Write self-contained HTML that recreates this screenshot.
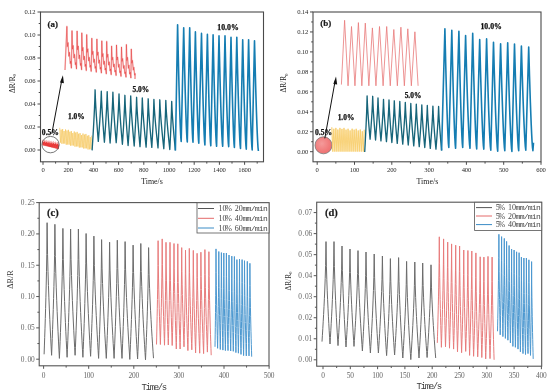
<!DOCTYPE html>
<html><head><meta charset="utf-8"><style>
html,body{margin:0;padding:0;background:#fff;width:550px;height:392px;overflow:hidden}
svg{display:block;filter:blur(0.3px)}
</style></head><body>
<svg width="550" height="392" viewBox="0 0 550 392">
<rect width="550" height="392" fill="#fff"/>
<rect x="40.5" y="12" width="223" height="149.8" fill="none" stroke="#4a4a4a" stroke-width="1.1"/>
<path d="M37.5,150H40.5M37.5,127H40.5M37.5,104H40.5M37.5,81H40.5M37.5,58H40.5M37.5,35H40.5M37.5,12H40.5M38.7,138.5H40.5M38.7,115.5H40.5M38.7,92.5H40.5M38.7,69.5H40.5M38.7,46.5H40.5M38.7,23.5H40.5" stroke="#4a4a4a" stroke-width="1.0" fill="none"/>
<path d="M43,161.8V164.8M68.2,161.8V164.8M93.4,161.8V164.8M118.6,161.8V164.8M143.8,161.8V164.8M169,161.8V164.8M194.2,161.8V164.8M219.4,161.8V164.8M244.6,161.8V164.8M55.6,161.8V163.6M80.8,161.8V163.6M106,161.8V163.6M131.2,161.8V163.6M156.4,161.8V163.6M181.6,161.8V163.6M206.8,161.8V163.6M232,161.8V163.6M257.2,161.8V163.6" stroke="#4a4a4a" stroke-width="1.0" fill="none"/>
<text x="35.4" y="152.2" font-size="6.6" text-anchor="end" font-family='"Liberation Serif", serif' font-weight="normal" fill="#2a2a2a" letter-spacing="-0.15">0.00</text>
<text x="35.4" y="129.2" font-size="6.6" text-anchor="end" font-family='"Liberation Serif", serif' font-weight="normal" fill="#2a2a2a" letter-spacing="-0.15">0.02</text>
<text x="35.4" y="106.2" font-size="6.6" text-anchor="end" font-family='"Liberation Serif", serif' font-weight="normal" fill="#2a2a2a" letter-spacing="-0.15">0.04</text>
<text x="35.4" y="83.2" font-size="6.6" text-anchor="end" font-family='"Liberation Serif", serif' font-weight="normal" fill="#2a2a2a" letter-spacing="-0.15">0.06</text>
<text x="35.4" y="60.2" font-size="6.6" text-anchor="end" font-family='"Liberation Serif", serif' font-weight="normal" fill="#2a2a2a" letter-spacing="-0.15">0.08</text>
<text x="35.4" y="37.2" font-size="6.6" text-anchor="end" font-family='"Liberation Serif", serif' font-weight="normal" fill="#2a2a2a" letter-spacing="-0.15">0.10</text>
<text x="35.4" y="14.2" font-size="6.6" text-anchor="end" font-family='"Liberation Serif", serif' font-weight="normal" fill="#2a2a2a" letter-spacing="-0.15">0.12</text>
<text x="43" y="172.2" font-size="6.6" text-anchor="middle" font-family='"Liberation Serif", serif' font-weight="normal" fill="#2a2a2a" letter-spacing="-0.15">0</text>
<text x="68.2" y="172.2" font-size="6.6" text-anchor="middle" font-family='"Liberation Serif", serif' font-weight="normal" fill="#2a2a2a" letter-spacing="-0.15">200</text>
<text x="93.4" y="172.2" font-size="6.6" text-anchor="middle" font-family='"Liberation Serif", serif' font-weight="normal" fill="#2a2a2a" letter-spacing="-0.15">400</text>
<text x="118.6" y="172.2" font-size="6.6" text-anchor="middle" font-family='"Liberation Serif", serif' font-weight="normal" fill="#2a2a2a" letter-spacing="-0.15">600</text>
<text x="143.8" y="172.2" font-size="6.6" text-anchor="middle" font-family='"Liberation Serif", serif' font-weight="normal" fill="#2a2a2a" letter-spacing="-0.15">800</text>
<text x="169" y="172.2" font-size="6.6" text-anchor="middle" font-family='"Liberation Serif", serif' font-weight="normal" fill="#2a2a2a" letter-spacing="-0.15">1000</text>
<text x="194.2" y="172.2" font-size="6.6" text-anchor="middle" font-family='"Liberation Serif", serif' font-weight="normal" fill="#2a2a2a" letter-spacing="-0.15">1200</text>
<text x="219.4" y="172.2" font-size="6.6" text-anchor="middle" font-family='"Liberation Serif", serif' font-weight="normal" fill="#2a2a2a" letter-spacing="-0.15">1400</text>
<text x="244.6" y="172.2" font-size="6.6" text-anchor="middle" font-family='"Liberation Serif", serif' font-weight="normal" fill="#2a2a2a" letter-spacing="-0.15">1600</text>
<text x="152" y="184.2" font-size="7.9" text-anchor="middle" font-family='"Liberation Serif", serif' font-weight="normal" fill="#222" >Time/s</text>
<text transform="translate(14.6,83.5) rotate(-90)" font-size="7.4" text-anchor="middle" font-family='"Liberation Serif", serif' fill="#222">ΔR/R<tspan font-size="5" dy="1.5">0</tspan></text>
<text x="52.8" y="26.5" font-size="9.0" text-anchor="middle" font-family='"Liberation Serif", serif' font-weight="bold" fill="#1a1a1a" stroke="#1a1a1a" stroke-width="0.2">(a)</text>
<polyline points="42.4,139.8 42.95,145.13 43.49,140.79 44.04,145.4 44.59,140.17 45.13,145.67 45.68,141.16 46.23,145.93 46.77,140.55 47.32,146.2 47.87,141.53 48.41,146.47 48.96,140.92 49.51,146.73 50.05,141.91 50.6,147 51.15,141.29 51.69,147.27 52.24,142.28 52.79,147.53 53.33,141.67 53.88,147.8 54.43,142.65 54.97,148.07 55.52,142.04 56.07,148.33 56.61,143.03 57.16,148.6 57.71,142.41 58.25,148.87 58.8,143.4" fill="none" stroke="#f07070" stroke-width="1.1" stroke-linejoin="round" stroke-opacity="0.6"/>
<polyline points="42.4,141.3 42.95,145.13 43.49,142.29 44.04,145.4 44.59,141.67 45.13,145.67 45.68,142.66 46.23,145.93 46.77,142.05 47.32,146.2 47.87,143.03 48.41,146.47 48.96,142.42 49.51,146.73 50.05,143.41 50.6,147 51.15,142.79 51.69,147.27 52.24,143.78 52.79,147.53 53.33,143.17 53.88,147.8 54.43,144.15 54.97,148.07 55.52,143.54 56.07,148.33 56.61,144.53 57.16,148.6 57.71,143.91 58.25,148.87 58.8,144.9" fill="none" stroke="#e51c1c" stroke-width="0.7" stroke-linejoin="round" stroke-opacity="0.9"/>
<ellipse cx="50.5" cy="144.6" rx="8.6" ry="8.2" fill="none" stroke="#555" stroke-width="0.8"/>
<polyline points="59.7,127.8 60.43,142.66 61.15,129.64 61.88,143.78 62.61,129.08 63.34,143.6 64.06,131.02 64.79,143.61 65.52,129.46 66.25,144.73 66.97,130.5 67.7,144.55 68.43,129.85 69.15,144.57 69.88,131.69 70.61,145.69 71.34,131.13 72.06,145.5 72.79,133.07 73.52,145.52 74.25,131.51 74.97,146.64 75.7,132.55 76.43,146.46 77.15,131.89 77.88,146.48 78.61,133.73 79.34,147.6 80.06,133.17 80.79,147.41 81.52,135.11 82.25,147.43 82.97,133.55 83.7,148.55 84.43,134.6 85.15,148.37 85.88,133.94 86.61,148.39 87.34,135.78 88.06,149.5 88.79,135.22 89.52,149.32 90.25,137.16 90.97,149.34 91.7,135.6" fill="none" stroke="#fbe2a6" stroke-width="0.8" stroke-linejoin="round" stroke-opacity="0.8"/>
<polyline points="59.7,127.8 60.43,142.66 61.15,129.64 61.88,143.78 62.61,129.08 63.34,143.6 64.06,131.02 64.79,143.61 65.52,129.46 66.25,144.73 66.97,130.5 67.7,144.55 68.43,129.85 69.15,144.57 69.88,131.69 70.61,145.69 71.34,131.13 72.06,145.5 72.79,133.07 73.52,145.52 74.25,131.51 74.97,146.64 75.7,132.55 76.43,146.46 77.15,131.89 77.88,146.48 78.61,133.73 79.34,147.6 80.06,133.17 80.79,147.41 81.52,135.11 82.25,147.43 82.97,133.55 83.7,148.55 84.43,134.6 85.15,148.37 85.88,133.94 86.61,148.39 87.34,135.78 88.06,149.5 88.79,135.22 89.52,149.32 90.25,137.16 90.97,149.34 91.7,135.6" fill="none" stroke="#f3b838" stroke-width="0.4" stroke-linejoin="round" stroke-opacity="0.85"/>
<polyline points="92.1,150.4 92.4,145.8 92.7,141.06 93,136.18 93.3,131.11 93.6,125.83 93.9,120.28 94.2,114.36 94.5,107.92 94.8,100.58 95.1,89.8 95.42,98.98 95.74,105.23 96.06,110.72 96.38,115.75 96.7,120.48 97.02,124.98 97.34,129.29 97.66,133.45 97.98,137.48 98.3,141.4 98.6,137.59 98.9,133.66 99.2,129.62 99.5,125.42 99.8,121.05 100.1,116.45 100.4,111.55 100.7,106.21 101,100.13 101.3,91.2 101.61,100.27 101.92,106.45 102.23,111.87 102.54,116.85 102.85,121.52 103.16,125.97 103.47,130.23 103.78,134.34 104.09,138.33 104.4,142.2 104.68,138.36 104.96,134.4 105.24,130.32 105.52,126.1 105.8,121.69 106.08,117.05 106.36,112.11 106.64,106.73 106.92,100.6 107.2,91.6 107.49,100.74 107.78,106.97 108.07,112.44 108.36,117.45 108.65,122.16 108.94,126.64 109.23,130.94 109.52,135.08 109.81,139.09 110.1,143 110.38,139.14 110.66,135.17 110.94,131.08 111.22,126.83 111.5,122.41 111.78,117.75 112.06,112.79 112.34,107.39 112.62,101.23 112.9,92.2 113.23,101.18 113.56,107.3 113.89,112.67 114.22,117.6 114.55,122.23 114.88,126.63 115.21,130.85 115.54,134.92 115.87,138.86 116.2,142.7 116.48,138.99 116.76,135.18 117.04,131.25 117.32,127.17 117.6,122.92 117.88,118.45 118.16,113.68 118.44,108.49 118.72,102.58 119,93.9 119.34,102.86 119.68,108.97 120.02,114.33 120.36,119.25 120.7,123.87 121.04,128.26 121.38,132.47 121.72,136.53 122.06,140.47 122.4,144.3 122.65,140.58 122.9,136.75 123.15,132.8 123.4,128.7 123.65,124.44 123.9,119.95 124.15,115.16 124.4,109.95 124.65,104.01 124.9,95.3 125.22,104.23 125.54,110.31 125.86,115.65 126.18,120.55 126.5,125.15 126.82,129.52 127.14,133.72 127.46,137.76 127.78,141.69 128.1,145.5 128.36,141.73 128.62,137.86 128.88,133.86 129.14,129.71 129.4,125.39 129.66,120.85 129.92,116.01 130.18,110.73 130.44,104.72 130.7,95.9 131.05,104.81 131.4,110.88 131.75,116.21 132.1,121.1 132.45,125.69 132.8,130.05 133.15,134.24 133.5,138.28 133.85,142.19 134.2,146 134.44,142.3 134.68,138.5 134.92,134.57 135.16,130.5 135.4,126.26 135.64,121.79 135.88,117.04 136.12,111.86 136.36,105.96 136.6,97.3 136.94,106.07 137.28,112.04 137.62,117.28 137.96,122.1 138.3,126.61 138.64,130.91 138.98,135.03 139.32,139 139.66,142.85 140,146.6 140.23,142.91 140.46,139.11 140.69,135.19 140.92,131.13 141.15,126.9 141.38,122.44 141.61,117.7 141.84,112.53 142.07,106.64 142.3,98 142.68,106.73 143.06,112.68 143.44,117.9 143.82,122.7 144.2,127.2 144.58,131.47 144.96,135.58 145.34,139.53 145.72,143.37 146.1,147.1 146.31,143.43 146.52,139.66 146.73,135.76 146.94,131.73 147.15,127.52 147.36,123.09 147.57,118.38 147.78,113.25 147.99,107.39 148.2,98.8 148.56,107.44 148.92,113.33 149.28,118.5 149.64,123.24 150,127.7 150.36,131.93 150.72,135.99 151.08,139.91 151.44,143.71 151.8,147.4 152.01,143.75 152.22,140 152.43,136.13 152.64,132.12 152.85,127.94 153.06,123.54 153.27,118.86 153.48,113.76 153.69,107.94 153.9,99.4 154.31,108.02 154.72,113.9 155.13,119.06 155.54,123.79 155.95,128.24 156.36,132.46 156.77,136.52 157.18,140.43 157.59,144.22 158,147.9 158.18,144.25 158.36,140.49 158.54,136.61 158.72,132.59 158.9,128.4 159.08,123.99 159.26,119.3 159.44,114.19 159.62,108.35 159.8,99.8 160.2,108.5 160.6,114.42 161,119.62 161.4,124.4 161.8,128.88 162.2,133.14 162.6,137.22 163,141.16 163.4,144.98 163.8,148.7 164,145.03 164.2,141.26 164.4,137.36 164.6,133.33 164.8,129.12 165,124.69 165.2,119.98 165.4,114.85 165.6,108.99 165.8,100.4 166.2,109.13 166.6,115.08 167,120.3 167.4,125.1 167.8,129.6 168.2,133.87 168.6,137.98 169,141.93 169.4,145.77 169.8,149.5 169.99,145.85 170.18,142.09 170.37,138.21 170.56,134.19 170.75,130 170.94,125.59 171.13,120.9 171.32,115.79 171.51,109.95 171.7,101.4 172.07,110.11 172.44,116.05 172.81,121.26 173.18,126.05 173.55,130.54 173.92,134.8 174.29,138.9 174.66,142.85 175.03,146.68 175.4,150.4" fill="none" stroke="#17657a" stroke-width="1.35" stroke-linejoin="round" />
<polyline points="175.4,150.4 177.6,24.8 177.96,41.86 178.32,58 178.68,73.15 179.04,87.26 179.4,100.24 179.76,111.98 180.12,122.32 180.48,131.06 180.84,137.81 181.2,141.5 183.7,27.7 184.06,44.41 184.42,60.21 184.78,75.06 185.14,88.88 185.5,101.59 185.86,113.08 186.22,123.22 186.58,131.78 186.94,138.39 187.3,142 189.7,27.7 190.03,44.45 190.36,60.3 190.69,75.18 191.02,89.04 191.35,101.78 191.68,113.31 192.01,123.47 192.34,132.05 192.67,138.68 193,142.3 195.4,31.9 195.74,48.17 196.08,63.56 196.42,78.02 196.76,91.47 197.1,103.85 197.44,115.04 197.78,124.91 198.12,133.25 198.46,139.68 198.8,143.2 201.5,33.4 201.84,49.7 202.18,65.12 202.52,79.6 202.86,93.08 203.2,105.48 203.54,116.69 203.88,126.58 204.22,134.93 204.56,141.37 204.9,144.9 207.4,34.4 207.74,50.69 208.08,66.09 208.42,80.56 208.76,94.03 209.1,106.41 209.44,117.62 209.78,127.5 210.12,135.84 210.46,142.28 210.8,145.8 213.1,34.9 213.45,51.19 213.8,66.59 214.15,81.06 214.5,94.53 214.85,106.91 215.2,118.12 215.55,128 215.9,136.34 216.25,142.78 216.6,146.3 219,35.9 219.37,52.04 219.74,67.3 220.11,81.64 220.48,94.99 220.85,107.27 221.22,118.37 221.59,128.16 221.96,136.43 222.33,142.81 222.7,146.3 225,35.9 225.37,52.08 225.74,67.39 226.11,81.77 226.48,95.15 226.85,107.46 227.22,118.59 227.59,128.41 227.96,136.7 228.33,143.1 228.7,146.6 231,37.2 231.34,53.32 231.68,68.58 232.02,82.9 232.36,96.24 232.7,108.5 233.04,119.6 233.38,129.38 233.72,137.63 234.06,144.01 234.4,147.5 236.8,37.2 237.17,53.46 237.54,68.83 237.91,83.27 238.28,96.72 238.65,109.08 239.02,120.27 239.39,130.13 239.76,138.45 240.13,144.88 240.5,148.4 242.7,39.7 243.06,55.71 243.42,70.85 243.78,85.07 244.14,98.31 244.5,110.49 244.86,121.5 245.22,131.21 245.58,139.41 245.94,145.74 246.3,149.2 248.6,39.7 248.96,55.82 249.32,71.08 249.68,85.4 250.04,98.74 250.4,111 250.76,122.1 251.12,131.88 251.48,140.13 251.84,146.51 252.2,150 254.5,40.7 254.89,56.82 255.28,72.08 255.67,86.4 256.06,99.74 256.45,112 256.84,123.1 257.23,132.88 257.62,141.13 258.01,147.51 258.4,151" fill="none" stroke="#157db2" stroke-width="1.6" stroke-linejoin="round" />
<polyline points="65,70 66.9,26.4 67.4,46.6 68,42.56 68.9,56.3 69.4,52.26 70.3,63.57 70.7,61.14 71.4,68.12 72,30.7 72.5,49.16 73.1,45.47 74,58.02 74.5,54.33 75.4,64.67 75.8,62.45 76.5,68.95 77.1,31 77.6,49.72 78.2,45.98 79.1,58.71 79.6,54.97 80.5,65.45 80.9,63.2 81.6,69.77 81.8,32.9 82.3,51.08 82.9,47.45 83.8,59.81 84.3,56.18 85.2,66.36 85.6,64.18 86.3,70.59 86.7,34.6 87.2,52.35 87.8,48.8 88.7,60.86 89.2,57.32 90.1,67.25 90.5,65.12 91.2,71.42 91.8,38.2 92.3,54.56 92.9,51.29 93.8,62.41 94.3,59.14 95.2,68.3 95.6,66.34 96.3,72.24 96.9,39 97.4,55.37 98,52.1 98.9,63.23 99.4,59.95 100.3,69.12 100.7,67.16 101.4,73.06 101.8,40.9 102.3,56.73 102.9,53.56 103.8,64.33 104.3,61.16 105.2,70.03 105.6,68.13 106.3,73.88 106.7,41.4 107.2,57.39 107.8,54.19 108.7,65.07 109.2,61.87 110.1,70.83 110.5,68.91 111.2,74.71 111.6,46 112.1,60.1 112.7,57.28 113.6,66.87 114.1,64.05 115,71.95 115.4,70.26 116.1,75.53 116.5,45 117,60.02 117.6,57.01 118.5,67.22 119,64.22 119.9,72.63 120.3,70.83 121,76.35 121.5,47 122,61.43 122.6,58.54 123.5,68.35 124,65.47 124.9,73.55 125.3,71.81 126,77.18 126.4,44.5 126.9,60.59 127.5,57.37 128.4,68.31 128.9,65.09 129.8,74.1 130.2,72.17 130.9,78 131.3,49 131.8,63.25 132.4,60.4 133.3,70.09 133.8,67.24 134.7,75.22 135.1,73.51 135,79" fill="none" stroke="#f4a8a8" stroke-width="1.6" stroke-linejoin="round" stroke-opacity="0.6"/>
<polyline points="65,70 66.9,26.4 67.4,46.6 68,42.56 68.9,56.3 69.4,52.26 70.3,63.57 70.7,61.14 71.4,68.12 72,30.7 72.5,49.16 73.1,45.47 74,58.02 74.5,54.33 75.4,64.67 75.8,62.45 76.5,68.95 77.1,31 77.6,49.72 78.2,45.98 79.1,58.71 79.6,54.97 80.5,65.45 80.9,63.2 81.6,69.77 81.8,32.9 82.3,51.08 82.9,47.45 83.8,59.81 84.3,56.18 85.2,66.36 85.6,64.18 86.3,70.59 86.7,34.6 87.2,52.35 87.8,48.8 88.7,60.86 89.2,57.32 90.1,67.25 90.5,65.12 91.2,71.42 91.8,38.2 92.3,54.56 92.9,51.29 93.8,62.41 94.3,59.14 95.2,68.3 95.6,66.34 96.3,72.24 96.9,39 97.4,55.37 98,52.1 98.9,63.23 99.4,59.95 100.3,69.12 100.7,67.16 101.4,73.06 101.8,40.9 102.3,56.73 102.9,53.56 103.8,64.33 104.3,61.16 105.2,70.03 105.6,68.13 106.3,73.88 106.7,41.4 107.2,57.39 107.8,54.19 108.7,65.07 109.2,61.87 110.1,70.83 110.5,68.91 111.2,74.71 111.6,46 112.1,60.1 112.7,57.28 113.6,66.87 114.1,64.05 115,71.95 115.4,70.26 116.1,75.53 116.5,45 117,60.02 117.6,57.01 118.5,67.22 119,64.22 119.9,72.63 120.3,70.83 121,76.35 121.5,47 122,61.43 122.6,58.54 123.5,68.35 124,65.47 124.9,73.55 125.3,71.81 126,77.18 126.4,44.5 126.9,60.59 127.5,57.37 128.4,68.31 128.9,65.09 129.8,74.1 130.2,72.17 130.9,78 131.3,49 131.8,63.25 132.4,60.4 133.3,70.09 133.8,67.24 134.7,75.22 135.1,73.51 135,79" fill="none" stroke="#e53a3a" stroke-width="0.65" stroke-linejoin="round" stroke-opacity="0.85"/>
<path d="M51.8,133.8 L61.9,79.5" stroke="#111" stroke-width="1.0" fill="none"/>
<path d="M62.9,75.2 L60.0,82.6 L63.9,83.2 Z" fill="#111"/>
<text x="50.4" y="134.6" font-size="7.6" text-anchor="middle" font-family='"Liberation Serif", serif' font-weight="bold" fill="#111" stroke="#111" stroke-width="0.25">0.5%</text>
<text x="76.4" y="118.5" font-size="7.4" text-anchor="middle" font-family='"Liberation Serif", serif' font-weight="bold" fill="#111" stroke="#111" stroke-width="0.25">1.0%</text>
<text x="140.8" y="92.2" font-size="7.4" text-anchor="middle" font-family='"Liberation Serif", serif' font-weight="bold" fill="#111" stroke="#111" stroke-width="0.25">5.0%</text>
<text x="228" y="30.3" font-size="7.8" text-anchor="middle" font-family='"Liberation Serif", serif' font-weight="bold" fill="#111" stroke="#111" stroke-width="0.25">10.0%</text>
<rect x="313" y="12" width="228" height="149.8" fill="none" stroke="#4a4a4a" stroke-width="1.1"/>
<path d="M310,151.7H313M310,131.74H313M310,111.78H313M310,91.82H313M310,71.86H313M310,51.9H313M310,31.94H313M310,11.98H313M311.2,141.72H313M311.2,121.76H313M311.2,101.8H313M311.2,81.84H313M311.2,61.88H313M311.2,41.92H313M311.2,21.96H313" stroke="#4a4a4a" stroke-width="1.0" fill="none"/>
<path d="M317.2,161.8V164.8M354.5,161.8V164.8M391.8,161.8V164.8M429.1,161.8V164.8M466.4,161.8V164.8M503.7,161.8V164.8M541,161.8V164.8M335.85,161.8V163.6M373.15,161.8V163.6M410.45,161.8V163.6M447.75,161.8V163.6M485.05,161.8V163.6M522.35,161.8V163.6" stroke="#4a4a4a" stroke-width="1.0" fill="none"/>
<text x="308.1" y="153.9" font-size="6.6" text-anchor="end" font-family='"Liberation Serif", serif' font-weight="normal" fill="#2a2a2a" letter-spacing="-0.15">0.00</text>
<text x="308.1" y="133.94" font-size="6.6" text-anchor="end" font-family='"Liberation Serif", serif' font-weight="normal" fill="#2a2a2a" letter-spacing="-0.15">0.02</text>
<text x="308.1" y="113.98" font-size="6.6" text-anchor="end" font-family='"Liberation Serif", serif' font-weight="normal" fill="#2a2a2a" letter-spacing="-0.15">0.04</text>
<text x="308.1" y="94.02" font-size="6.6" text-anchor="end" font-family='"Liberation Serif", serif' font-weight="normal" fill="#2a2a2a" letter-spacing="-0.15">0.06</text>
<text x="308.1" y="74.06" font-size="6.6" text-anchor="end" font-family='"Liberation Serif", serif' font-weight="normal" fill="#2a2a2a" letter-spacing="-0.15">0.08</text>
<text x="308.1" y="54.1" font-size="6.6" text-anchor="end" font-family='"Liberation Serif", serif' font-weight="normal" fill="#2a2a2a" letter-spacing="-0.15">0.10</text>
<text x="308.1" y="34.14" font-size="6.6" text-anchor="end" font-family='"Liberation Serif", serif' font-weight="normal" fill="#2a2a2a" letter-spacing="-0.15">0.12</text>
<text x="308.1" y="14.18" font-size="6.6" text-anchor="end" font-family='"Liberation Serif", serif' font-weight="normal" fill="#2a2a2a" letter-spacing="-0.15">0.14</text>
<text x="317.2" y="172.2" font-size="6.6" text-anchor="middle" font-family='"Liberation Serif", serif' font-weight="normal" fill="#2a2a2a" letter-spacing="-0.15">0</text>
<text x="354.5" y="172.2" font-size="6.6" text-anchor="middle" font-family='"Liberation Serif", serif' font-weight="normal" fill="#2a2a2a" letter-spacing="-0.15">100</text>
<text x="391.8" y="172.2" font-size="6.6" text-anchor="middle" font-family='"Liberation Serif", serif' font-weight="normal" fill="#2a2a2a" letter-spacing="-0.15">200</text>
<text x="429.1" y="172.2" font-size="6.6" text-anchor="middle" font-family='"Liberation Serif", serif' font-weight="normal" fill="#2a2a2a" letter-spacing="-0.15">300</text>
<text x="466.4" y="172.2" font-size="6.6" text-anchor="middle" font-family='"Liberation Serif", serif' font-weight="normal" fill="#2a2a2a" letter-spacing="-0.15">400</text>
<text x="503.7" y="172.2" font-size="6.6" text-anchor="middle" font-family='"Liberation Serif", serif' font-weight="normal" fill="#2a2a2a" letter-spacing="-0.15">500</text>
<text x="541" y="172.2" font-size="6.6" text-anchor="middle" font-family='"Liberation Serif", serif' font-weight="normal" fill="#2a2a2a" letter-spacing="-0.15">600</text>
<text x="427.4" y="183.6" font-size="7.9" text-anchor="middle" font-family='"Liberation Serif", serif' font-weight="normal" fill="#222" >Time/s</text>
<text transform="translate(286.0,83.0) rotate(-90)" font-size="7.4" text-anchor="middle" font-family='"Liberation Serif", serif' fill="#222">ΔR/R<tspan font-size="5" dy="1.5">0</tspan></text>
<text x="325.8" y="26.1" font-size="9.0" text-anchor="middle" font-family='"Liberation Serif", serif' font-weight="bold" fill="#1a1a1a" stroke="#1a1a1a" stroke-width="0.2">(b)</text>
<defs><radialGradient id="cg" cx="0.4" cy="0.4" r="0.7"><stop offset="0" stop-color="#f49a9a"/><stop offset="0.7" stop-color="#f07878"/><stop offset="1" stop-color="#ec7070"/></radialGradient></defs>
<circle cx="323.5" cy="145.3" r="8.5" fill="url(#cg)" stroke="#777" stroke-width="0.8"/>
<polyline points="331.8,127.3 332.82,151.5 333.83,128.94 334.85,151.5 335.86,128.07 336.88,151.5 337.89,129.71 338.91,151.5 339.93,128.05 340.94,151.5 341.96,128.99 342.97,151.5 343.99,128.12 345,151.5 346.02,129.76 347.03,151.5 348.05,128.9 349.07,151.5 350.08,130.54 351.1,151.5 352.11,128.88 353.13,151.5 354.14,129.81 355.16,151.5 356.18,128.95 357.19,151.5 358.21,130.59 359.22,151.5 360.24,129.72 361.25,151.5 362.27,131.36 363.28,151.5 364.3,129.7" fill="none" stroke="#fbe0a0" stroke-width="1.2" stroke-linejoin="round" stroke-opacity="0.8"/>
<polyline points="331.8,127.3 332.82,151.5 333.83,128.94 334.85,151.5 335.86,128.07 336.88,151.5 337.89,129.71 338.91,151.5 339.93,128.05 340.94,151.5 341.96,128.99 342.97,151.5 343.99,128.12 345,151.5 346.02,129.76 347.03,151.5 348.05,128.9 349.07,151.5 350.08,130.54 351.1,151.5 352.11,128.88 353.13,151.5 354.14,129.81 355.16,151.5 356.18,128.95 357.19,151.5 358.21,130.59 359.22,151.5 360.24,129.72 361.25,151.5 362.27,131.36 363.28,151.5 364.3,129.7" fill="none" stroke="#f5c44e" stroke-width="0.6" stroke-linejoin="round" stroke-opacity="0.9"/>
<polyline points="364.7,152 364.94,147.74 365.18,143.35 365.42,138.83 365.66,134.15 365.9,129.26 366.14,124.12 366.38,118.64 366.62,112.68 366.86,105.88 367.1,95.9 367.4,103.6 367.7,108.85 368,113.45 368.3,117.68 368.6,121.65 368.9,125.42 369.2,129.04 369.5,132.53 369.8,135.91 370.1,139.2 370.36,135.94 370.62,132.59 370.88,129.13 371.14,125.55 371.4,121.81 371.66,117.88 371.92,113.69 372.18,109.13 372.44,103.93 372.7,96.3 372.99,104.08 373.27,109.38 373.56,114.03 373.84,118.3 374.12,122.3 374.41,126.11 374.69,129.77 374.98,133.29 375.26,136.71 375.55,140.03 375.8,136.84 376.04,133.55 376.29,130.17 376.53,126.65 376.77,122.99 377.02,119.14 377.26,115.04 377.51,110.57 377.75,105.47 378,98 378.3,105.62 378.59,110.82 378.88,115.37 379.18,119.56 379.48,123.49 379.77,127.22 380.06,130.8 380.36,134.26 380.65,137.6 380.95,140.86 381.2,137.71 381.46,134.47 381.71,131.13 381.97,127.67 382.23,124.05 382.48,120.25 382.74,116.21 382.99,111.8 383.25,106.77 383.5,99.4 383.8,106.92 384.09,112.05 384.38,116.54 384.68,120.67 384.98,124.55 385.27,128.23 385.56,131.77 385.86,135.17 386.15,138.48 386.45,141.69 386.7,138.52 386.96,135.27 387.21,131.91 387.47,128.42 387.73,124.79 387.98,120.97 388.24,116.9 388.49,112.47 388.75,107.41 389,100 389.28,107.56 389.57,112.72 389.86,117.24 390.14,121.39 390.42,125.28 390.71,128.99 390.99,132.54 391.28,135.97 391.56,139.29 391.85,142.52 392.09,139.35 392.34,136.09 392.58,132.73 392.83,129.24 393.07,125.61 393.32,121.79 393.56,117.71 393.81,113.28 394.06,108.22 394.3,100.8 394.6,108.37 394.89,113.53 395.19,118.05 395.48,122.2 395.77,126.1 396.07,129.81 396.37,133.37 396.66,136.8 396.95,140.12 397.25,143.35 397.5,140.17 397.76,136.89 398.01,133.51 398.27,130 398.52,126.35 398.78,122.5 399.04,118.41 399.29,113.95 399.55,108.86 399.8,101.4 400.1,109.01 400.39,114.2 400.69,118.74 400.98,122.92 401.27,126.84 401.57,130.57 401.87,134.14 402.16,137.59 402.45,140.93 402.75,144.18 403,141.01 403.26,137.75 403.51,134.38 403.77,130.89 404.02,127.25 404.28,123.42 404.54,119.34 404.79,114.9 405.05,109.83 405.3,102.4 405.6,109.98 405.89,115.14 406.19,119.67 406.48,123.83 406.77,127.74 407.07,131.45 407.37,135.01 407.66,138.45 407.95,141.78 408.25,145.02 408.5,141.86 408.76,138.62 409.01,135.27 409.27,131.8 409.52,128.19 409.78,124.38 410.04,120.33 410.29,115.92 410.55,110.88 410.8,103.5 411.1,111.03 411.39,116.16 411.69,120.67 411.98,124.8 412.27,128.68 412.57,132.37 412.87,135.91 413.16,139.32 413.45,142.63 413.75,145.85 414,142.67 414.26,139.41 414.51,136.05 414.77,132.56 415.02,128.92 415.28,125.1 415.54,121.02 415.79,116.59 416.05,111.52 416.3,104.1 416.6,111.67 416.89,116.83 417.19,121.36 417.48,125.52 417.77,129.42 418.07,133.13 418.37,136.68 418.66,140.12 418.95,143.44 419.25,146.68 419.5,143.5 419.76,140.24 420.01,136.87 420.27,133.38 420.52,129.74 420.78,125.91 421.04,121.83 421.29,117.39 421.55,112.33 421.8,104.9 422.1,112.48 422.39,117.64 422.69,122.17 422.98,126.33 423.27,130.23 423.57,133.95 423.87,137.51 424.16,140.94 424.45,144.27 424.75,147.51 425,144.32 425.26,141.03 425.51,137.65 425.77,134.14 426.02,130.48 426.28,126.63 426.54,122.53 426.79,118.06 427.05,112.97 427.3,105.5 427.6,113.12 427.9,118.31 428.2,122.87 428.5,127.05 428.8,130.97 429.1,134.7 429.4,138.28 429.7,141.74 430,145.08 430.3,148.34 430.56,145.13 430.82,141.83 431.08,138.42 431.34,134.9 431.6,131.22 431.86,127.34 432.12,123.22 432.38,118.73 432.64,113.61 432.9,106.1 433.2,113.76 433.51,118.98 433.81,123.56 434.12,127.76 434.42,131.71 434.73,135.46 435.03,139.06 435.34,142.53 435.64,145.9 435.95,149.17 436.21,145.93 436.48,142.59 436.75,139.15 437.01,135.59 437.27,131.87 437.54,127.96 437.81,123.8 438.07,119.26 438.34,114.09 438.6,106.5 438.9,114.32 439.2,119.66 439.5,124.34 439.8,128.63 440.1,132.66 440.4,136.5 440.7,140.17 441,143.72 441.3,147.16 441.6,150.5" fill="none" stroke="#17657a" stroke-width="1.35" stroke-linejoin="round" />
<polyline points="441.6,150.5 444.9,28.8 445.29,46.14 445.68,62.54 446.07,77.94 446.46,92.28 446.85,105.47 447.24,117.4 447.63,127.91 448.02,136.79 448.41,143.65 448.8,147.4 451.8,30.3 452.18,47.55 452.56,63.87 452.94,79.19 453.32,93.46 453.7,106.58 454.08,118.45 454.46,128.91 454.84,137.75 455.22,144.57 455.6,148.3 458.9,31.3 459.28,48.27 459.66,64.33 460.04,79.4 460.42,93.44 460.8,106.35 461.18,118.03 461.56,128.32 461.94,137.02 462.32,143.73 462.7,147.4 465.6,35.6 466.04,52.08 466.48,67.66 466.92,82.3 467.36,95.92 467.8,108.45 468.24,119.79 468.68,129.78 469.12,138.22 469.56,144.74 470,148.3 472.7,33.2 473.1,50.11 473.5,66.11 473.9,81.14 474.3,95.13 474.7,107.99 475.1,119.63 475.5,129.89 475.9,138.55 476.3,145.24 476.7,148.9 479.7,39.5 480.11,55.54 480.52,70.71 480.93,84.95 481.34,98.22 481.75,110.42 482.16,121.45 482.57,131.17 482.98,139.39 483.39,145.73 483.8,149.2 486.6,38.9 487.02,55.17 487.44,70.56 487.86,85.02 488.28,98.47 488.7,110.85 489.12,122.04 489.54,131.91 489.96,140.25 490.38,146.68 490.8,150.2 493.5,42.2 493.92,58.13 494.34,73.21 494.76,87.36 495.18,100.54 495.6,112.66 496.02,123.62 496.44,133.29 496.86,141.45 497.28,147.75 497.7,151.2 500.6,43.7 501.02,59.34 501.44,74.14 501.86,88.03 502.28,100.97 502.7,112.87 503.12,123.63 503.54,133.12 503.96,141.13 504.38,147.32 504.8,150.7 507.7,42.7 508.12,58.6 508.54,73.65 508.96,87.78 509.38,100.93 509.8,113.03 510.22,123.98 510.64,133.62 511.06,141.77 511.48,148.06 511.9,151.5 514.5,44 514.92,59.6 515.34,74.35 515.76,88.21 516.18,101.11 516.6,112.98 517.02,123.71 517.44,133.17 517.86,141.16 518.28,147.33 518.7,150.7 521.4,46 521.84,61.23 522.28,75.64 522.72,89.17 523.16,101.77 523.6,113.36 524.04,123.84 524.48,133.08 524.92,140.88 525.36,146.9 525.8,150.2 528.7,47.1 529.12,62.24 529.54,76.57 529.96,90.03 530.38,102.55 530.8,114.07 531.22,124.49 531.64,133.68 532.06,141.43 532.48,147.42 532.9,150.7 533.5,142.6" fill="none" stroke="#157db2" stroke-width="1.6" stroke-linejoin="round" />
<polyline points="341.4,84.6 344.6,20.3 348.05,85.8 351.5,26.5 354.95,85.8 358.4,22.6 361.85,85.8 365.3,23.1 368.85,85.8 372.4,27.9 375.95,85.8 379.5,26.5 383.1,85.8 386.7,26.5 390.25,85.8 393.8,29.5 397.35,85.8 400.9,27.2 404.35,85.8 407.8,28.8 411.35,85.8 414.9,31.8 418.1,85.8" fill="none" stroke="#e87878" stroke-width="0.8" stroke-linejoin="round" />
<path d="M324.8,138.4 L335.2,80.6" stroke="#111" stroke-width="1.0" fill="none"/>
<path d="M336.0,76.5 L333.3,84.0 L337.2,84.6 Z" fill="#111"/>
<text x="323.6" y="134.6" font-size="7.6" text-anchor="middle" font-family='"Liberation Serif", serif' font-weight="bold" fill="#111" stroke="#111" stroke-width="0.25">0.5%</text>
<text x="346" y="120.2" font-size="7.4" text-anchor="middle" font-family='"Liberation Serif", serif' font-weight="bold" fill="#111" stroke="#111" stroke-width="0.25">1.0%</text>
<text x="413" y="98" font-size="7.4" text-anchor="middle" font-family='"Liberation Serif", serif' font-weight="bold" fill="#111" stroke="#111" stroke-width="0.25">5.0%</text>
<text x="491.2" y="29.1" font-size="7.8" text-anchor="middle" font-family='"Liberation Serif", serif' font-weight="bold" fill="#111" stroke="#111" stroke-width="0.25">10.0%</text>
<rect x="39.2" y="202.6" width="229.8" height="163.2" fill="none" stroke="#555" stroke-width="1.1"/>
<path d="M36.2,359.2H39.2M36.2,327.88H39.2M36.2,296.56H39.2M36.2,265.24H39.2M36.2,233.92H39.2M36.2,202.6H39.2M37.4,343.54H39.2M37.4,312.22H39.2M37.4,280.9H39.2M37.4,249.58H39.2M37.4,218.26H39.2" stroke="#555" stroke-width="1.0" fill="none"/>
<path d="M43.6,365.8V368.8M88.7,365.8V368.8M133.8,365.8V368.8M178.9,365.8V368.8M224,365.8V368.8M269.1,365.8V368.8M66.15,365.8V367.6M111.25,365.8V367.6M156.35,365.8V367.6M201.45,365.8V367.6M246.55,365.8V367.6" stroke="#555" stroke-width="1.0" fill="none"/>
<text y="361.7" font-size="7.4" text-anchor="middle" font-weight="normal" fill="#666"><tspan x="22.63" font-family='"Liberation Serif", serif'>0</tspan><tspan x="26.05" font-family='"Liberation Serif", serif'>.</tspan><tspan x="29.47" font-family='"Liberation Serif", serif'>0</tspan><tspan x="32.89" font-family='"Liberation Serif", serif'>0</tspan></text>
<text y="330.38" font-size="7.4" text-anchor="middle" font-weight="normal" fill="#666"><tspan x="22.63" font-family='"Liberation Serif", serif'>0</tspan><tspan x="26.05" font-family='"Liberation Serif", serif'>.</tspan><tspan x="29.47" font-family='"Liberation Serif", serif'>0</tspan><tspan x="32.89" font-family='"Liberation Serif", serif'>5</tspan></text>
<text y="299.06" font-size="7.4" text-anchor="middle" font-weight="normal" fill="#666"><tspan x="22.63" font-family='"Liberation Serif", serif'>0</tspan><tspan x="26.05" font-family='"Liberation Serif", serif'>.</tspan><tspan x="29.47" font-family='"Liberation Serif", serif'>1</tspan><tspan x="32.89" font-family='"Liberation Serif", serif'>0</tspan></text>
<text y="267.74" font-size="7.4" text-anchor="middle" font-weight="normal" fill="#666"><tspan x="22.63" font-family='"Liberation Serif", serif'>0</tspan><tspan x="26.05" font-family='"Liberation Serif", serif'>.</tspan><tspan x="29.47" font-family='"Liberation Serif", serif'>1</tspan><tspan x="32.89" font-family='"Liberation Serif", serif'>5</tspan></text>
<text y="236.42" font-size="7.4" text-anchor="middle" font-weight="normal" fill="#666"><tspan x="22.63" font-family='"Liberation Serif", serif'>0</tspan><tspan x="26.05" font-family='"Liberation Serif", serif'>.</tspan><tspan x="29.47" font-family='"Liberation Serif", serif'>2</tspan><tspan x="32.89" font-family='"Liberation Serif", serif'>0</tspan></text>
<text y="205.1" font-size="7.4" text-anchor="middle" font-weight="normal" fill="#666"><tspan x="22.63" font-family='"Liberation Serif", serif'>0</tspan><tspan x="26.05" font-family='"Liberation Serif", serif'>.</tspan><tspan x="29.47" font-family='"Liberation Serif", serif'>2</tspan><tspan x="32.89" font-family='"Liberation Serif", serif'>5</tspan></text>
<text y="377.8" font-size="7.4" text-anchor="middle" font-weight="normal" fill="#666"><tspan x="43.6" font-family='"Liberation Serif", serif'>0</tspan></text>
<text y="377.8" font-size="7.4" text-anchor="middle" font-weight="normal" fill="#666"><tspan x="85.23" font-family='"Liberation Serif", serif'>1</tspan><tspan x="88.7" font-family='"Liberation Serif", serif'>0</tspan><tspan x="92.17" font-family='"Liberation Serif", serif'>0</tspan></text>
<text y="377.8" font-size="7.4" text-anchor="middle" font-weight="normal" fill="#666"><tspan x="130.33" font-family='"Liberation Serif", serif'>2</tspan><tspan x="133.8" font-family='"Liberation Serif", serif'>0</tspan><tspan x="137.27" font-family='"Liberation Serif", serif'>0</tspan></text>
<text y="377.8" font-size="7.4" text-anchor="middle" font-weight="normal" fill="#666"><tspan x="175.43" font-family='"Liberation Serif", serif'>3</tspan><tspan x="178.9" font-family='"Liberation Serif", serif'>0</tspan><tspan x="182.37" font-family='"Liberation Serif", serif'>0</tspan></text>
<text y="377.8" font-size="7.4" text-anchor="middle" font-weight="normal" fill="#666"><tspan x="220.53" font-family='"Liberation Serif", serif'>4</tspan><tspan x="224" font-family='"Liberation Serif", serif'>0</tspan><tspan x="227.47" font-family='"Liberation Serif", serif'>0</tspan></text>
<text y="377.8" font-size="7.4" text-anchor="middle" font-weight="normal" fill="#666"><tspan x="265.63" font-family='"Liberation Serif", serif'>5</tspan><tspan x="269.1" font-family='"Liberation Serif", serif'>0</tspan><tspan x="272.57" font-family='"Liberation Serif", serif'>0</tspan></text>
<text y="389.6" font-size="9.0" text-anchor="middle" font-weight="normal" fill="#3a3a3a"><tspan x="144.32" font-family='"Liberation Mono", monospace'>T</tspan><tspan x="148.35" font-family='"Liberation Mono", monospace'>i</tspan><tspan x="152.38" font-family='"Liberation Mono", monospace'>m</tspan><tspan x="156.41" font-family='"Liberation Mono", monospace'>e</tspan><tspan x="160.44" font-family='"Liberation Mono", monospace'>/</tspan><tspan x="164.47" font-family='"Liberation Mono", monospace'>s</tspan></text>
<text transform="translate(12.6,279.6) rotate(-90)" font-size="8.2" text-anchor="middle" font-family='"Liberation Serif", serif' fill="#333">ΔR/R</text>
<text x="52.8" y="216.4" font-size="10.5" text-anchor="middle" font-family='"Liberation Serif", serif' font-weight="bold" fill="#1a1a1a" stroke="#1a1a1a" stroke-width="0.2">(c)</text>
<polyline points="44.1,354.3 44.4,345.98 44.7,337.3 45,328.19 45.3,318.58 45.6,308.33 45.9,297.26 46.2,285.08 46.5,271.22 46.8,254.27 47.1,222.7 47.55,254.51 48,271.59 48.45,285.56 48.9,297.83 49.35,308.98 49.8,319.3 50.25,328.99 50.7,338.17 51.15,346.91 51.6,355.3 51.93,347.02 52.26,338.37 52.59,329.31 52.92,319.74 53.25,309.54 53.58,298.52 53.91,286.4 54.24,272.6 54.57,255.72 54.9,224.3 55.35,256.47 55.8,273.74 56.25,287.87 56.7,300.28 57.15,311.55 57.6,322 58.05,331.8 58.5,341.07 58.95,349.92 59.4,358.4 59.75,350.18 60.1,341.6 60.45,332.61 60.8,323.11 61.15,312.99 61.5,302.06 61.85,290.03 62.2,276.33 62.55,259.58 62.9,228.4 63.32,259.32 63.74,275.92 64.16,289.5 64.58,301.43 65,312.27 65.42,322.31 65.84,331.73 66.26,340.65 66.68,349.15 67.1,357.3 67.45,349.19 67.8,340.72 68.15,331.85 68.5,322.47 68.85,312.48 69.2,301.69 69.55,289.82 69.9,276.3 70.25,259.78 70.6,229 71.05,259.3 71.5,275.56 71.95,288.87 72.4,300.56 72.85,311.18 73.3,321.01 73.75,330.24 74.2,338.98 74.65,347.31 75.1,355.3 75.43,347.31 75.76,338.98 76.09,330.24 76.42,321.01 76.75,311.18 77.08,300.56 77.41,288.87 77.74,275.56 78.07,259.3 78.4,229 78.85,259.78 79.3,276.3 79.75,289.82 80.2,301.69 80.65,312.48 81.1,322.47 81.55,331.85 82,340.72 82.45,349.19 82.9,357.3 83.22,349.47 83.54,341.3 83.86,332.74 84.18,323.69 84.5,314.05 84.82,303.65 85.14,292.19 85.46,279.14 85.78,263.2 86.1,233.5 86.55,262.96 87,278.77 87.45,291.71 87.9,303.08 88.35,313.4 88.8,322.96 89.25,331.94 89.7,340.43 90.15,348.53 90.6,356.3 90.93,348.7 91.26,340.77 91.59,332.45 91.92,323.67 92.25,314.31 92.58,304.21 92.91,293.08 93.24,280.41 93.57,264.93 93.9,236.1 94.37,265.44 94.84,281.19 95.31,294.08 95.78,305.4 96.25,315.68 96.72,325.2 97.19,334.14 97.66,342.6 98.13,350.67 98.6,358.4 98.9,350.89 99.2,343.05 99.5,334.83 99.8,326.15 100.1,316.9 100.4,306.91 100.7,295.92 101,283.4 101.3,268.1 101.6,239.6 102.07,268.1 102.54,283.4 103.01,295.92 103.48,306.91 103.95,316.9 104.42,326.15 104.89,334.83 105.36,343.05 105.83,350.89 106.3,358.4 106.63,351.05 106.96,343.39 107.29,335.35 107.62,326.86 107.95,317.81 108.28,308.04 108.61,297.28 108.94,285.04 109.27,270.07 109.6,242.2 110.05,270.07 110.5,285.04 110.95,297.28 111.4,308.04 111.85,317.81 112.3,326.86 112.75,335.35 113.2,343.39 113.65,351.05 114.1,358.4 114.42,350.93 114.74,343.13 115.06,334.95 115.38,326.31 115.7,317.11 116.02,307.17 116.34,296.23 116.66,283.78 116.98,268.55 117.3,240.2 117.77,268.55 118.24,283.78 118.71,296.23 119.18,307.17 119.65,317.11 120.12,326.31 120.59,334.95 121.06,343.13 121.53,350.93 122,358.4 122.31,351.01 122.62,343.31 122.93,335.23 123.24,326.69 123.55,317.6 123.86,307.78 124.17,296.97 124.48,284.66 124.79,269.62 125.1,241.6 125.57,269.86 126.04,285.03 126.51,297.44 126.98,308.35 127.45,318.25 127.92,327.42 128.39,336.03 128.86,344.18 129.33,351.95 129.8,359.4 130.13,352.17 130.46,344.63 130.79,336.72 131.12,328.37 131.45,319.47 131.78,309.86 132.11,299.28 132.44,287.24 132.77,272.52 133.1,245.1 133.55,272.42 134,287.09 134.45,299.09 134.9,309.64 135.35,319.21 135.8,328.08 136.25,336.4 136.7,344.28 137.15,351.8 137.6,359 137.92,351.7 138.24,344.08 138.56,336.09 138.88,327.65 139.2,318.65 139.52,308.94 139.84,298.25 140.16,286.08 140.48,271.21 140.8,243.5 141.27,271.4 141.74,286.38 142.21,298.63 142.68,309.4 143.15,319.17 143.62,328.23 144.09,336.73 144.56,344.77 145.03,352.45 145.5,359.8 145.81,352.7 146.12,345.3 146.43,337.54 146.74,329.34 147.05,320.61 147.36,311.17 147.67,300.79 147.98,288.96 148.29,274.51 148.6,247.6 149.09,274.13 149.58,288.37 150.07,300.03 150.56,310.27 151.05,319.56 151.54,328.18 152.03,336.26 152.52,343.91 153.01,351.21 153.5,358.2" fill="none" stroke="#6c6c6c" stroke-width="1.0" stroke-linejoin="round" />
<polyline points="156.5,344.5 156.66,337.94 156.82,331.09 156.98,323.91 157.14,316.32 157.3,308.24 157.46,299.51 157.62,289.91 157.78,278.97 157.94,265.6 158.1,240.7 158.33,265.6 158.56,278.97 158.79,289.91 159.02,299.51 159.25,308.24 159.48,316.32 159.71,323.91 159.94,331.09 160.17,337.94 160.4,344.5 160.58,337.82 160.76,330.86 160.94,323.55 161.12,315.83 161.3,307.61 161.48,298.73 161.66,288.96 161.84,277.83 162.02,264.23 162.2,238.9 162.43,264.4 162.66,278.09 162.89,289.29 163.12,299.13 163.35,308.07 163.58,316.34 163.81,324.11 164.04,331.47 164.27,338.48 164.5,345.2 164.65,338.69 164.8,331.9 164.95,324.79 165.1,317.27 165.25,309.25 165.4,300.6 165.55,291.08 165.7,280.24 165.85,266.98 166,242.3 166.23,266.94 166.46,280.16 166.69,290.98 166.92,300.49 167.15,309.12 167.38,317.12 167.61,324.62 167.84,331.73 168.07,338.51 168.3,345 168.47,338.51 168.64,331.73 168.81,324.62 168.98,317.12 169.15,309.12 169.32,300.49 169.49,290.98 169.66,280.16 169.83,266.94 170,242.3 170.22,267.06 170.44,280.35 170.66,291.22 170.88,300.77 171.1,309.45 171.32,317.49 171.54,325.03 171.76,332.17 171.98,338.97 172.2,345.5 172.38,339.05 172.56,332.32 172.74,325.26 172.92,317.81 173.1,309.87 173.28,301.29 173.46,291.85 173.64,281.1 173.82,267.97 174,243.5 174.23,268.81 174.46,282.39 174.69,293.51 174.92,303.28 175.15,312.15 175.38,320.36 175.61,328.07 175.84,335.37 176.07,342.33 176.3,349 176.45,342.35 176.6,335.41 176.75,328.13 176.9,320.44 177.05,312.25 177.2,303.41 177.35,293.67 177.5,282.58 177.65,269.04 177.8,243.8 178.03,269.04 178.26,282.58 178.49,293.67 178.72,303.41 178.95,312.25 179.18,320.44 179.41,328.13 179.64,335.41 179.87,342.35 180.1,349 180.26,342.59 180.42,335.9 180.58,328.88 180.74,321.47 180.9,313.58 181.06,305.05 181.22,295.67 181.38,284.98 181.54,271.92 181.7,247.6 181.93,271.4 182.16,284.17 182.39,294.62 182.62,303.81 182.85,312.15 183.08,319.87 183.31,327.12 183.54,333.98 183.77,340.53 184,346.8 184.15,340.69 184.3,334.32 184.45,327.64 184.6,320.58 184.75,313.05 184.9,304.93 185.05,295.99 185.2,285.81 185.35,273.37 185.5,250.2 185.74,274.28 185.98,287.21 186.22,297.79 186.46,307.09 186.7,315.53 186.94,323.35 187.18,330.68 187.42,337.63 187.66,344.25 187.9,350.6 188.04,344.14 188.18,337.4 188.32,330.32 188.46,322.86 188.6,314.9 188.74,306.31 188.88,296.85 189.02,286.08 189.16,272.92 189.3,248.4 189.55,272.72 189.8,285.78 190.05,296.47 190.3,305.85 190.55,314.38 190.8,322.27 191.05,329.68 191.3,336.7 191.55,343.39 191.8,349.8 191.95,343.51 192.1,336.96 192.25,330.08 192.4,322.82 192.55,315.08 192.7,306.72 192.85,297.52 193,287.05 193.15,274.24 193.3,250.4 193.53,274.99 193.76,288.19 193.99,298.99 194.22,308.48 194.45,317.09 194.68,325.08 194.91,332.56 195.14,339.66 195.37,346.42 195.6,352.9 195.75,346.6 195.9,340.03 196.05,333.14 196.2,325.86 196.35,318.11 196.5,309.73 196.65,300.51 196.8,290.02 196.95,277.19 197.1,253.3 197.36,277.26 197.62,290.13 197.88,300.66 198.14,309.9 198.4,318.3 198.66,326.08 198.92,333.38 199.18,340.29 199.44,346.88 199.7,353.2 199.82,346.81 199.94,340.15 200.06,333.16 200.18,325.78 200.3,317.92 200.42,309.43 200.54,300.08 200.66,289.44 200.78,276.43 200.9,252.2 201.17,276.52 201.44,289.58 201.71,300.27 201.98,309.65 202.25,318.18 202.52,326.07 202.79,333.48 203.06,340.5 203.33,347.19 203.6,353.6 203.73,347.02 203.86,340.16 203.99,332.97 204.12,325.37 204.25,317.27 204.38,308.53 204.51,298.9 204.64,287.94 204.77,274.55 204.9,249.6 205.15,274.19 205.4,287.39 205.65,298.19 205.9,307.68 206.15,316.29 206.4,324.28 206.65,331.76 206.9,338.86 207.15,345.62 207.4,352.1 207.55,345.75 207.7,339.13 207.85,332.18 208,324.85 208.15,317.03 208.3,308.59 208.45,299.29 208.6,288.71 208.75,275.78 208.9,251.7 209.13,276.53 209.36,289.86 209.59,300.76 209.82,310.34 210.05,319.04 210.28,327.1 210.51,334.67 210.74,341.83 210.97,348.66 211.2,355.2" fill="none" stroke="#e87c7c" stroke-width="1.0" stroke-linejoin="round" />
<polyline points="215,346.8 215.1,340.61 215.2,334.15 215.3,327.38 215.4,320.22 215.5,312.6 215.6,304.37 215.7,295.31 215.8,284.99 215.9,272.38 216,248.9 216.16,272.74 216.32,285.55 216.48,296.02 216.64,305.22 216.8,313.58 216.96,321.32 217.12,328.58 217.28,335.46 217.44,342.01 217.6,348.3 217.72,342.18 217.84,335.79 217.96,329.1 218.08,322.02 218.2,314.48 218.32,306.35 218.44,297.39 218.56,287.19 218.68,274.72 218.8,251.5 218.95,275.01 219.1,287.63 219.25,297.96 219.4,307.03 219.55,315.27 219.7,322.9 219.85,330.06 220,336.84 220.15,343.3 220.3,349.5 220.41,343.37 220.52,336.98 220.63,330.28 220.74,323.2 220.85,315.65 220.96,307.5 221.07,298.53 221.18,288.32 221.29,275.84 221.4,252.6 221.55,275.99 221.7,288.55 221.85,298.82 222,307.84 222.15,316.04 222.3,323.63 222.45,330.76 222.6,337.5 222.75,343.93 222.9,350.1 222.99,343.96 223.08,337.55 223.17,330.84 223.26,323.74 223.35,316.18 223.44,308.02 223.53,299.03 223.62,288.8 223.71,276.29 223.8,253 223.96,276.41 224.12,288.98 224.28,299.27 224.44,308.3 224.6,316.51 224.76,324.11 224.92,331.24 225.08,337.99 225.24,344.43 225.4,350.6 225.5,344.43 225.6,337.99 225.7,331.24 225.8,324.11 225.9,316.51 226,308.3 226.1,299.27 226.2,288.98 226.3,276.41 226.4,253 226.56,276.41 226.72,288.98 226.88,299.27 227.04,308.3 227.2,316.51 227.36,324.11 227.52,331.24 227.68,337.99 227.84,344.43 228,350.6 228.1,344.55 228.2,338.25 228.3,331.63 228.4,324.65 228.5,317.2 228.6,309.17 228.7,300.32 228.8,290.24 228.9,277.93 229,255 229.17,278.03 229.34,290.39 229.51,300.51 229.68,309.39 229.85,317.46 230.02,324.94 230.19,331.95 230.36,338.6 230.53,344.93 230.7,351 230.81,345 230.92,338.74 231.03,332.17 231.14,325.24 231.25,317.85 231.36,309.87 231.47,301.09 231.58,291.09 231.69,278.86 231.8,256.1 231.95,278.94 232.1,291.2 232.25,301.23 232.4,310.04 232.55,318.04 232.7,325.46 232.85,332.41 233,339 233.15,345.28 233.3,351.3 233.41,345.31 233.52,339.05 233.63,332.49 233.74,325.57 233.85,318.18 233.96,310.21 234.07,301.44 234.18,291.45 234.29,279.24 234.4,256.5 234.55,279.55 234.7,291.93 234.85,302.06 235,310.95 235.15,319.03 235.3,326.51 235.45,333.53 235.6,340.18 235.75,346.52 235.9,352.6 236,346.72 236.1,340.58 236.2,334.15 236.3,327.35 236.4,320.11 236.5,312.29 236.6,303.69 236.7,293.89 236.8,281.91 236.9,259.6 237.05,282.05 237.2,294.11 237.35,303.97 237.5,312.63 237.65,320.5 237.8,327.79 237.95,334.63 238.1,341.11 238.25,347.28 238.4,353.2 238.51,347.25 238.62,341.04 238.73,334.53 238.84,327.66 238.95,320.33 239.06,312.42 239.17,303.71 239.28,293.79 239.39,281.67 239.5,259.1 239.65,281.96 239.8,294.23 239.95,304.28 240.1,313.1 240.25,321.11 240.4,328.53 240.55,335.49 240.7,342.09 240.85,348.37 241,354.4 241.11,348.41 241.22,342.15 241.33,335.59 241.44,328.67 241.55,321.28 241.66,313.31 241.77,304.54 241.88,294.55 241.99,282.34 242.1,259.6 242.25,282.63 242.4,294.99 242.55,305.11 242.7,313.99 242.85,322.06 243,329.54 243.15,336.55 243.3,343.2 243.45,349.53 243.6,355.6 243.69,349.6 243.78,343.34 243.87,336.77 243.96,329.84 244.05,322.45 244.14,314.47 244.23,305.69 244.32,295.69 244.41,283.46 244.5,260.7 244.68,283.54 244.86,295.8 245.04,305.83 245.22,314.64 245.4,322.64 245.58,330.06 245.76,337.01 245.94,343.6 246.12,349.88 246.3,355.9 246.4,349.92 246.5,343.69 246.6,337.15 246.7,330.25 246.8,322.89 246.9,314.94 247,306.2 247.1,296.24 247.2,284.07 247.3,261.4 247.47,284.07 247.64,296.24 247.81,306.2 247.98,314.94 248.15,322.89 248.32,330.25 248.49,337.15 248.66,343.69 248.83,349.92 249,355.9 249.09,350.04 249.18,343.94 249.27,337.53 249.36,330.76 249.45,323.55 249.54,315.77 249.63,307.2 249.72,297.44 249.81,285.51 249.9,263.3 250.08,285.71 250.26,297.73 250.44,307.58 250.62,316.22 250.8,324.07 250.98,331.35 251.16,338.17 251.34,344.63 251.52,350.79 251.7,356.7" fill="none" stroke="#4c98d0" stroke-width="1.0" stroke-linejoin="round" />
<rect x="197.0" y="202.8" width="72.0" height="30.2" fill="#fff" stroke="#555" stroke-width="0.8"/>
<path d="M198,208.5H214" stroke="#555" stroke-width="1.0"/>
<text y="211.3" font-size="8.0" text-anchor="middle" font-weight="normal" fill="#444"><tspan x="220.44" font-family='"Liberation Serif", serif'>1</tspan><tspan x="224.52" font-family='"Liberation Serif", serif'>0</tspan><tspan x="228.6" font-family='"Liberation Serif", serif'>%</tspan><tspan x="236.76" font-family='"Liberation Serif", serif'>2</tspan><tspan x="240.84" font-family='"Liberation Serif", serif'>0</tspan><tspan x="244.92" font-family='"Liberation Mono", monospace'>m</tspan><tspan x="249" font-family='"Liberation Mono", monospace'>m</tspan><tspan x="253.08" font-family='"Liberation Mono", monospace'>/</tspan><tspan x="257.16" font-family='"Liberation Mono", monospace'>m</tspan><tspan x="261.24" font-family='"Liberation Mono", monospace'>i</tspan><tspan x="265.32" font-family='"Liberation Mono", monospace'>n</tspan></text>
<path d="M198,218.3H214" stroke="#e46a6a" stroke-width="1.0"/>
<text y="221.1" font-size="8.0" text-anchor="middle" font-weight="normal" fill="#444"><tspan x="220.44" font-family='"Liberation Serif", serif'>1</tspan><tspan x="224.52" font-family='"Liberation Serif", serif'>0</tspan><tspan x="228.6" font-family='"Liberation Serif", serif'>%</tspan><tspan x="236.76" font-family='"Liberation Serif", serif'>4</tspan><tspan x="240.84" font-family='"Liberation Serif", serif'>0</tspan><tspan x="244.92" font-family='"Liberation Mono", monospace'>m</tspan><tspan x="249" font-family='"Liberation Mono", monospace'>m</tspan><tspan x="253.08" font-family='"Liberation Mono", monospace'>/</tspan><tspan x="257.16" font-family='"Liberation Mono", monospace'>m</tspan><tspan x="261.24" font-family='"Liberation Mono", monospace'>i</tspan><tspan x="265.32" font-family='"Liberation Mono", monospace'>n</tspan></text>
<path d="M198,228.0H214" stroke="#3a8cc6" stroke-width="1.0"/>
<text y="230.8" font-size="8.0" text-anchor="middle" font-weight="normal" fill="#444"><tspan x="220.44" font-family='"Liberation Serif", serif'>1</tspan><tspan x="224.52" font-family='"Liberation Serif", serif'>0</tspan><tspan x="228.6" font-family='"Liberation Serif", serif'>%</tspan><tspan x="236.76" font-family='"Liberation Serif", serif'>6</tspan><tspan x="240.84" font-family='"Liberation Serif", serif'>0</tspan><tspan x="244.92" font-family='"Liberation Mono", monospace'>m</tspan><tspan x="249" font-family='"Liberation Mono", monospace'>m</tspan><tspan x="253.08" font-family='"Liberation Mono", monospace'>/</tspan><tspan x="257.16" font-family='"Liberation Mono", monospace'>m</tspan><tspan x="261.24" font-family='"Liberation Mono", monospace'>i</tspan><tspan x="265.32" font-family='"Liberation Mono", monospace'>n</tspan></text>
<rect x="316.7" y="202.2" width="225" height="164" fill="none" stroke="#555" stroke-width="1.1"/>
<path d="M313.7,359.8H316.7M313.7,338.77H316.7M313.7,317.74H316.7M313.7,296.71H316.7M313.7,275.68H316.7M313.7,254.65H316.7M313.7,233.62H316.7M313.7,212.59H316.7M314.9,349.29H316.7M314.9,328.25H316.7M314.9,307.23H316.7M314.9,286.19H316.7M314.9,265.17H316.7M314.9,244.13H316.7M314.9,223.11H316.7" stroke="#555" stroke-width="1.0" fill="none"/>
<path d="M323,366.2V369.2M350.3,366.2V369.2M377.6,366.2V369.2M404.9,366.2V369.2M432.2,366.2V369.2M459.5,366.2V369.2M486.8,366.2V369.2M514.1,366.2V369.2M541.4,366.2V369.2M336.65,366.2V368M363.95,366.2V368M391.25,366.2V368M418.55,366.2V368M445.85,366.2V368M473.15,366.2V368M500.45,366.2V368M527.75,366.2V368" stroke="#555" stroke-width="1.0" fill="none"/>
<text y="362.3" font-size="7.4" text-anchor="middle" font-weight="normal" fill="#666"><tspan x="300.13" font-family='"Liberation Serif", serif'>0</tspan><tspan x="303.55" font-family='"Liberation Serif", serif'>.</tspan><tspan x="306.97" font-family='"Liberation Serif", serif'>0</tspan><tspan x="310.39" font-family='"Liberation Serif", serif'>0</tspan></text>
<text y="341.27" font-size="7.4" text-anchor="middle" font-weight="normal" fill="#666"><tspan x="300.13" font-family='"Liberation Serif", serif'>0</tspan><tspan x="303.55" font-family='"Liberation Serif", serif'>.</tspan><tspan x="306.97" font-family='"Liberation Serif", serif'>0</tspan><tspan x="310.39" font-family='"Liberation Serif", serif'>1</tspan></text>
<text y="320.24" font-size="7.4" text-anchor="middle" font-weight="normal" fill="#666"><tspan x="300.13" font-family='"Liberation Serif", serif'>0</tspan><tspan x="303.55" font-family='"Liberation Serif", serif'>.</tspan><tspan x="306.97" font-family='"Liberation Serif", serif'>0</tspan><tspan x="310.39" font-family='"Liberation Serif", serif'>2</tspan></text>
<text y="299.21" font-size="7.4" text-anchor="middle" font-weight="normal" fill="#666"><tspan x="300.13" font-family='"Liberation Serif", serif'>0</tspan><tspan x="303.55" font-family='"Liberation Serif", serif'>.</tspan><tspan x="306.97" font-family='"Liberation Serif", serif'>0</tspan><tspan x="310.39" font-family='"Liberation Serif", serif'>3</tspan></text>
<text y="278.18" font-size="7.4" text-anchor="middle" font-weight="normal" fill="#666"><tspan x="300.13" font-family='"Liberation Serif", serif'>0</tspan><tspan x="303.55" font-family='"Liberation Serif", serif'>.</tspan><tspan x="306.97" font-family='"Liberation Serif", serif'>0</tspan><tspan x="310.39" font-family='"Liberation Serif", serif'>4</tspan></text>
<text y="257.15" font-size="7.4" text-anchor="middle" font-weight="normal" fill="#666"><tspan x="300.13" font-family='"Liberation Serif", serif'>0</tspan><tspan x="303.55" font-family='"Liberation Serif", serif'>.</tspan><tspan x="306.97" font-family='"Liberation Serif", serif'>0</tspan><tspan x="310.39" font-family='"Liberation Serif", serif'>5</tspan></text>
<text y="236.12" font-size="7.4" text-anchor="middle" font-weight="normal" fill="#666"><tspan x="300.13" font-family='"Liberation Serif", serif'>0</tspan><tspan x="303.55" font-family='"Liberation Serif", serif'>.</tspan><tspan x="306.97" font-family='"Liberation Serif", serif'>0</tspan><tspan x="310.39" font-family='"Liberation Serif", serif'>6</tspan></text>
<text y="215.09" font-size="7.4" text-anchor="middle" font-weight="normal" fill="#666"><tspan x="300.13" font-family='"Liberation Serif", serif'>0</tspan><tspan x="303.55" font-family='"Liberation Serif", serif'>.</tspan><tspan x="306.97" font-family='"Liberation Serif", serif'>0</tspan><tspan x="310.39" font-family='"Liberation Serif", serif'>7</tspan></text>
<text y="377.8" font-size="7.4" text-anchor="middle" font-weight="normal" fill="#666"><tspan x="323" font-family='"Liberation Serif", serif'>0</tspan></text>
<text y="377.8" font-size="7.4" text-anchor="middle" font-weight="normal" fill="#666"><tspan x="348.56" font-family='"Liberation Serif", serif'>5</tspan><tspan x="352.03" font-family='"Liberation Serif", serif'>0</tspan></text>
<text y="377.8" font-size="7.4" text-anchor="middle" font-weight="normal" fill="#666"><tspan x="374.13" font-family='"Liberation Serif", serif'>1</tspan><tspan x="377.6" font-family='"Liberation Serif", serif'>0</tspan><tspan x="381.07" font-family='"Liberation Serif", serif'>0</tspan></text>
<text y="377.8" font-size="7.4" text-anchor="middle" font-weight="normal" fill="#666"><tspan x="401.43" font-family='"Liberation Serif", serif'>1</tspan><tspan x="404.9" font-family='"Liberation Serif", serif'>5</tspan><tspan x="408.37" font-family='"Liberation Serif", serif'>0</tspan></text>
<text y="377.8" font-size="7.4" text-anchor="middle" font-weight="normal" fill="#666"><tspan x="428.73" font-family='"Liberation Serif", serif'>2</tspan><tspan x="432.2" font-family='"Liberation Serif", serif'>0</tspan><tspan x="435.67" font-family='"Liberation Serif", serif'>0</tspan></text>
<text y="377.8" font-size="7.4" text-anchor="middle" font-weight="normal" fill="#666"><tspan x="456.03" font-family='"Liberation Serif", serif'>2</tspan><tspan x="459.5" font-family='"Liberation Serif", serif'>5</tspan><tspan x="462.97" font-family='"Liberation Serif", serif'>0</tspan></text>
<text y="377.8" font-size="7.4" text-anchor="middle" font-weight="normal" fill="#666"><tspan x="483.33" font-family='"Liberation Serif", serif'>3</tspan><tspan x="486.8" font-family='"Liberation Serif", serif'>0</tspan><tspan x="490.27" font-family='"Liberation Serif", serif'>0</tspan></text>
<text y="377.8" font-size="7.4" text-anchor="middle" font-weight="normal" fill="#666"><tspan x="510.63" font-family='"Liberation Serif", serif'>3</tspan><tspan x="514.1" font-family='"Liberation Serif", serif'>5</tspan><tspan x="517.57" font-family='"Liberation Serif", serif'>0</tspan></text>
<text y="377.8" font-size="7.4" text-anchor="middle" font-weight="normal" fill="#666"><tspan x="537.93" font-family='"Liberation Serif", serif'>4</tspan><tspan x="541.4" font-family='"Liberation Serif", serif'>0</tspan><tspan x="544.87" font-family='"Liberation Serif", serif'>0</tspan></text>
<text y="389.2" font-size="9.0" text-anchor="middle" font-weight="normal" fill="#3a3a3a"><tspan x="419.32" font-family='"Liberation Mono", monospace'>T</tspan><tspan x="423.36" font-family='"Liberation Mono", monospace'>i</tspan><tspan x="427.38" font-family='"Liberation Mono", monospace'>m</tspan><tspan x="431.42" font-family='"Liberation Mono", monospace'>e</tspan><tspan x="435.44" font-family='"Liberation Mono", monospace'>/</tspan><tspan x="439.48" font-family='"Liberation Mono", monospace'>s</tspan></text>
<text transform="translate(290.5,281.0) rotate(-90)" font-size="7.4" text-anchor="middle" font-family='"Liberation Serif", serif' fill="#333">ΔR/R<tspan font-size="5" dy="1.5">0</tspan></text>
<text x="331.4" y="216.4" font-size="10.5" text-anchor="middle" font-family='"Liberation Serif", serif' font-weight="bold" fill="#1a1a1a" stroke="#1a1a1a" stroke-width="0.2">(d)</text>
<polyline points="322,341.6 322.4,335.28 322.8,328.68 323.2,321.76 323.6,314.45 324,306.67 324.4,298.26 324.8,289 325.2,278.47 325.6,265.59 326,241.6 326.4,266.16 326.8,279.35 327.2,290.14 327.6,299.62 328,308.23 328.4,316.2 328.8,323.68 329.2,330.77 329.6,337.52 330,344 330.4,337.52 330.8,330.77 331.2,323.68 331.6,316.2 332,308.23 332.4,299.62 332.8,290.14 333.2,279.35 333.6,266.16 334,241.6 334.4,266.55 334.8,279.94 335.2,290.9 335.6,300.53 336,309.27 336.4,317.37 336.8,324.97 337.2,332.16 337.6,339.02 338,345.6 338.4,339.3 338.8,332.73 339.2,325.84 339.6,318.56 340,310.81 340.4,302.43 340.8,293.21 341.2,282.72 341.6,269.89 342,246 342.4,270.23 342.8,283.24 343.2,293.88 343.6,303.23 344,311.72 344.4,319.58 344.8,326.96 345.2,333.95 345.6,340.61 346,347 346.4,340.8 346.8,334.34 347.2,327.56 347.6,320.4 348,312.77 348.4,304.53 348.8,295.46 349.2,285.13 349.6,272.51 350,249 350.4,272.36 350.8,284.91 351.2,295.17 351.6,304.19 352,312.38 352.4,319.96 352.8,327.08 353.2,333.82 353.6,340.24 354,346.4 354.4,340.34 354.8,334.02 355.2,327.39 355.6,320.39 356,312.93 356.4,304.88 356.8,296.01 357.2,285.92 357.6,273.58 358,250.6 358.44,274.68 358.88,287.61 359.32,298.19 359.76,307.49 360.2,315.93 360.64,323.75 361.08,331.08 361.52,338.03 361.96,344.65 362.4,351 362.76,344.74 363.12,338.21 363.48,331.36 363.84,324.13 364.2,316.42 364.56,308.09 364.92,298.93 365.28,288.5 365.64,275.75 366,252 366.44,276.23 366.88,289.24 367.32,299.88 367.76,309.23 368.2,317.72 368.64,325.58 369.08,332.96 369.52,339.95 369.96,346.61 370.4,353 370.78,346.74 371.16,340.21 371.54,333.36 371.92,326.13 372.3,318.42 372.68,310.09 373.06,300.93 373.44,290.5 373.82,277.75 374.2,254 374.62,277.75 375.04,290.5 375.46,300.93 375.88,310.09 376.3,318.42 376.72,326.13 377.14,333.36 377.56,340.21 377.98,346.74 378.4,353 378.8,346.87 379.2,340.47 379.6,333.76 380,326.67 380.4,319.12 380.8,310.96 381.2,301.98 381.6,291.76 382,279.27 382.4,256 382.82,279.89 383.24,292.72 383.66,303.21 384.08,312.43 384.5,320.81 384.92,328.56 385.34,335.84 385.76,342.73 386.18,349.3 386.6,355.6 386.98,349.47 387.36,343.07 387.74,336.36 388.12,329.27 388.5,321.72 388.88,313.56 389.26,304.58 389.64,294.36 390.02,281.87 390.4,258.6 390.82,281.72 391.24,294.14 391.66,304.3 392.08,313.22 392.5,321.32 392.92,328.83 393.34,335.87 393.76,342.54 394.18,348.9 394.6,355 395,348.84 395.4,342.42 395.8,335.68 396.2,328.56 396.6,320.98 397,312.79 397.4,303.77 397.8,293.51 398.2,280.96 398.6,257.6 399.02,281.68 399.44,294.61 399.86,305.19 400.28,314.49 400.7,322.93 401.12,330.75 401.54,338.08 401.96,345.03 402.38,351.65 402.8,358 403.18,351.89 403.56,345.52 403.94,338.84 404.32,331.78 404.7,324.25 405.08,316.13 405.46,307.19 405.84,297.01 406.22,284.57 406.6,261.4 407.02,284.96 407.44,297.6 407.86,307.95 408.28,317.04 408.7,325.3 409.12,332.94 409.54,340.12 409.96,346.91 410.38,353.39 410.8,359.6 411.2,353.43 411.6,346.99 412,340.24 412.4,333.11 412.8,325.51 413.2,317.3 413.6,308.27 414,297.98 414.4,285.41 414.8,262 415.22,285.03 415.64,297.39 416.06,307.51 416.48,316.39 416.9,324.46 417.32,331.94 417.74,338.95 418.16,345.6 418.58,351.93 419,358 419.37,351.99 419.74,345.73 420.11,339.15 420.48,332.21 420.85,324.81 421.22,316.83 421.59,308.03 421.96,298.02 422.33,285.79 422.7,263 423.14,285.67 423.58,297.84 424.02,307.8 424.46,316.54 424.9,324.49 425.34,331.85 425.78,338.75 426.22,345.29 426.66,351.52 427.1,357.5 427.49,351.64 427.88,345.52 428.27,339.11 428.66,332.34 429.05,325.12 429.44,317.32 429.83,308.74 430.22,298.98 430.61,287.04 431,264.8 431.47,287.16 431.94,299.16 432.41,308.98 432.88,317.61 433.35,325.44 433.82,332.7 434.29,339.51 434.76,345.96 435.23,352.11 435.7,358" fill="none" stroke="#6c6c6c" stroke-width="1.0" stroke-linejoin="round" />
<polyline points="437.3,342.9 437.5,336.19 437.7,329.19 437.9,321.85 438.1,314.1 438.3,305.84 438.5,296.92 438.7,287.1 438.9,275.92 439.1,262.25 439.3,236.8 439.51,263.31 439.72,277.54 439.93,289.18 440.14,299.41 440.35,308.7 440.56,317.3 440.77,325.38 440.98,333.02 441.19,340.31 441.4,347.3 441.62,340.45 441.84,333.29 442.06,325.79 442.28,317.87 442.5,309.43 442.72,300.32 442.94,290.29 443.16,278.86 443.38,264.9 443.6,238.9 443.79,264.78 443.98,278.68 444.17,290.05 444.36,300.04 444.55,309.11 444.74,317.51 444.93,325.39 445.12,332.86 445.31,339.98 445.5,346.8 445.72,340.18 445.94,333.27 446.16,326.03 446.38,318.38 446.6,310.23 446.82,301.42 447.04,291.73 447.26,280.7 447.48,267.22 447.7,242.1 447.88,267.55 448.06,281.22 448.24,292.4 448.42,302.22 448.6,311.14 448.78,319.4 448.96,327.15 449.14,334.49 449.32,341.49 449.5,348.2 449.71,341.6 449.92,334.72 450.13,327.51 450.34,319.89 450.55,311.76 450.76,303 450.97,293.34 451.18,282.35 451.39,268.92 451.6,243.9 451.8,269.14 452,282.68 452.2,293.77 452.4,303.51 452.6,312.35 452.8,320.54 453,328.23 453.2,335.51 453.4,342.45 453.6,349.1 453.81,342.53 454.02,335.68 454.23,328.49 454.44,320.9 454.65,312.8 454.86,304.07 455.07,294.45 455.28,283.5 455.49,270.12 455.7,245.2 455.88,270.77 456.06,284.5 456.24,295.73 456.42,305.6 456.6,314.56 456.78,322.86 456.96,330.65 457.14,338.03 457.32,345.06 457.5,351.8 457.71,345.11 457.92,338.13 458.13,330.81 458.34,323.08 458.55,314.84 458.76,305.95 458.97,296.15 459.18,285.01 459.39,271.38 459.6,246 459.8,271.6 460,285.34 460.2,296.58 460.4,306.46 460.6,315.43 460.8,323.74 461,331.53 461.2,338.91 461.4,345.95 461.6,352.7 461.81,346.21 462.03,339.43 462.25,332.32 462.46,324.82 462.68,316.82 462.89,308.19 463.11,298.68 463.32,287.86 463.54,274.64 463.75,250 463.94,274.32 464.14,287.38 464.33,298.07 464.53,307.45 464.73,315.98 464.92,323.87 465.12,331.28 465.31,338.3 465.5,344.99 465.7,351.4 465.92,345.02 466.14,338.36 466.36,331.38 466.58,324.01 466.8,316.15 467.02,307.67 467.24,298.33 467.46,287.7 467.68,274.7 467.9,250.5 468.07,275.66 468.24,289.17 468.41,300.23 468.58,309.94 468.75,318.76 468.92,326.92 469.09,334.59 469.26,341.85 469.43,348.77 469.6,355.4 469.82,348.8 470.04,341.91 470.26,334.69 470.48,327.06 470.7,318.93 470.92,310.15 471.14,300.49 471.36,289.49 471.58,276.04 471.8,251 471.98,276.26 472.16,289.82 472.34,300.92 472.52,310.66 472.7,319.52 472.88,327.72 473.06,335.41 473.24,342.69 473.42,349.64 473.6,356.3 473.83,349.76 474.06,342.94 474.29,335.79 474.52,328.23 474.75,320.18 474.98,311.49 475.21,301.92 475.44,291.02 475.67,277.7 475.9,252.9 476.08,277.82 476.26,291.2 476.44,302.15 476.62,311.77 476.8,320.5 476.98,328.6 477.16,336.19 477.34,343.38 477.52,350.23 477.7,356.8 477.95,350.48 478.2,343.88 478.45,336.96 478.7,329.65 478.95,321.87 479.2,313.46 479.45,304.2 479.7,293.67 479.95,280.79 480.2,256.8 480.36,280.96 480.52,293.93 480.68,304.54 480.84,313.86 481,322.32 481.16,330.16 481.32,337.52 481.48,344.49 481.64,351.13 481.8,357.5 482.01,351.15 482.22,344.53 482.43,337.58 482.64,330.25 482.85,322.43 483.06,313.99 483.27,304.69 483.48,294.11 483.69,281.18 483.9,257.1 484.08,281.52 484.26,294.63 484.44,305.36 484.62,314.78 484.8,323.34 484.98,331.27 485.16,338.7 485.34,345.75 485.52,352.46 485.7,358.9 485.93,352.42 486.16,345.66 486.39,338.56 486.62,331.08 486.85,323.09 487.08,314.48 487.31,304.99 487.54,294.19 487.77,280.99 488,256.4 488.2,280.92 488.4,294.08 488.6,304.85 488.8,314.31 489,322.9 489.2,330.86 489.4,338.32 489.6,345.4 489.8,352.14 490,358.6 490.21,352.18 490.42,345.49 490.63,338.46 490.84,331.05 491.05,323.14 491.26,314.61 491.47,305.22 491.68,294.52 491.89,281.45 492.1,257.1 492.3,281.74 492.5,294.96 492.7,305.78 492.9,315.29 493.1,323.92 493.3,331.92 493.5,339.42 493.7,346.53 493.9,353.31 494.1,359.8" fill="none" stroke="#e87c7c" stroke-width="1.0" stroke-linejoin="round" />
<polyline points="497.5,331.25 497.64,325.12 497.78,318.72 497.92,312.02 498.06,304.93 498.2,297.38 498.34,289.23 498.48,280.26 498.62,270.04 498.76,257.56 498.9,234.3 499.03,258.41 499.16,271.35 499.29,281.94 499.42,291.24 499.55,299.69 499.68,307.52 499.81,314.86 499.94,321.81 500.07,328.44 500.2,334.8 500.34,328.59 500.48,322.11 500.62,315.32 500.76,308.14 500.9,300.5 501.04,292.24 501.18,283.15 501.32,272.8 501.46,260.16 501.6,236.6 501.73,260.59 501.86,273.47 501.99,284 502.12,293.26 502.25,301.67 502.38,309.45 502.51,316.76 502.64,323.68 502.77,330.28 502.9,336.6 503.04,330.39 503.18,323.91 503.32,317.12 503.46,309.94 503.6,302.3 503.74,294.04 503.88,284.95 504.02,274.6 504.16,261.96 504.3,238.4 504.41,262.39 504.52,275.27 504.63,285.8 504.74,295.06 504.85,303.47 504.96,311.25 505.07,318.56 505.18,325.48 505.29,332.08 505.4,338.4 505.52,332.27 505.64,325.87 505.76,319.16 505.88,312.07 506,304.52 506.12,296.36 506.24,287.38 506.36,277.16 506.48,264.67 506.6,241.4 506.73,265.1 506.86,277.82 506.99,288.24 507.12,297.38 507.25,305.69 507.38,313.38 507.51,320.6 507.64,327.43 507.77,333.95 507.9,340.2 508.02,334.21 508.14,327.96 508.26,321.41 508.38,314.49 508.5,307.12 508.62,299.16 508.74,290.39 508.86,280.41 508.98,268.22 509.1,245.5 509.23,268.86 509.36,281.41 509.49,291.67 509.62,300.69 509.75,308.88 509.88,316.46 510.01,323.58 510.14,330.32 510.27,336.74 510.4,342.9 510.52,336.97 510.64,330.78 510.76,324.29 510.88,317.44 511,310.13 511.12,302.25 511.24,293.56 511.36,283.68 511.48,271.6 511.6,249.1 511.73,272.44 511.86,284.97 511.99,295.22 512.12,304.23 512.25,312.41 512.38,319.99 512.51,327.1 512.64,333.83 512.77,340.25 512.9,346.4 513.02,340.3 513.14,333.94 513.26,327.27 513.38,320.23 513.5,312.72 513.62,304.62 513.74,295.7 513.86,285.54 513.98,273.12 514.1,250 514.23,273.34 514.36,285.87 514.49,296.12 514.62,305.13 514.75,313.31 514.88,320.89 515.01,328 515.14,334.73 515.27,341.15 515.4,347.3 515.52,341.26 515.64,334.96 515.76,328.35 515.88,321.38 516,313.94 516.12,305.91 516.24,297.07 516.36,287.01 516.48,274.71 516.6,251.8 516.74,275.14 516.88,287.67 517.02,297.92 517.16,306.93 517.3,315.11 517.44,322.69 517.58,329.8 517.72,336.53 517.86,342.95 518,349.1 518.11,343 518.22,336.64 518.33,329.97 518.44,322.93 518.55,315.42 518.66,307.32 518.77,298.4 518.88,288.24 518.99,275.82 519.1,252.7 519.23,276.47 519.36,289.24 519.49,299.68 519.62,308.85 519.75,317.18 519.88,324.9 520.01,332.14 520.14,339 520.27,345.53 520.4,351.8 520.5,345.81 520.6,339.56 520.7,333.01 520.8,326.09 520.9,318.72 521,310.76 521.1,301.99 521.2,292.01 521.3,279.82 521.4,257.1 521.56,280.25 521.72,292.68 521.88,302.84 522.04,311.78 522.2,319.89 522.36,327.4 522.52,334.45 522.68,341.13 522.84,347.5 523,353.6 523.09,347.55 523.18,341.25 523.27,334.63 523.36,327.65 523.45,320.2 523.54,312.17 523.63,303.32 523.72,293.24 523.81,280.93 523.9,258 524.06,281.15 524.22,293.58 524.38,303.74 524.54,312.68 524.7,320.79 524.86,328.3 525.02,335.35 525.18,342.03 525.34,348.4 525.5,354.5 525.59,348.4 525.68,342.03 525.77,335.35 525.86,328.3 525.95,320.79 526.04,312.68 526.13,303.74 526.22,293.58 526.31,281.15 526.4,258 526.56,280.93 526.72,293.24 526.88,303.32 527.04,312.17 527.2,320.2 527.36,327.65 527.52,334.63 527.68,341.25 527.84,347.55 528,353.6 528.09,347.67 528.18,341.48 528.27,334.99 528.36,328.14 528.45,320.83 528.54,312.95 528.63,304.26 528.72,294.38 528.81,282.3 528.9,259.8 529.06,282.73 529.22,295.04 529.38,305.12 529.54,313.97 529.7,322 529.86,329.45 530.02,336.43 530.18,343.05 530.34,349.35 530.5,355.4 530.61,349.47 530.72,343.28 530.83,336.79 530.94,329.94 531.05,322.63 531.16,314.75 531.27,306.06 531.38,296.18 531.49,284.1 531.6,261.6 531.76,284.94 531.92,297.47 532.08,307.72 532.24,316.73 532.4,324.91 532.56,332.49 532.72,339.6 532.88,346.33 533.04,352.75 533.2,358.9" fill="none" stroke="#4c98d0" stroke-width="1.0" stroke-linejoin="round" />
<rect x="474.6" y="202.3" width="67.1" height="28.2" fill="#fff" stroke="#555" stroke-width="0.8"/>
<path d="M476,207.6H492" stroke="#555" stroke-width="1.0"/>
<text y="210.4" font-size="8.0" text-anchor="middle" font-weight="normal" fill="#444"><tspan x="497.73" font-family='"Liberation Serif", serif'>5</tspan><tspan x="501.79" font-family='"Liberation Serif", serif'>%</tspan><tspan x="509.91" font-family='"Liberation Serif", serif'>1</tspan><tspan x="513.97" font-family='"Liberation Serif", serif'>0</tspan><tspan x="518.03" font-family='"Liberation Mono", monospace'>m</tspan><tspan x="522.09" font-family='"Liberation Mono", monospace'>m</tspan><tspan x="526.15" font-family='"Liberation Mono", monospace'>/</tspan><tspan x="530.21" font-family='"Liberation Mono", monospace'>m</tspan><tspan x="534.27" font-family='"Liberation Mono", monospace'>i</tspan><tspan x="538.33" font-family='"Liberation Mono", monospace'>n</tspan></text>
<path d="M476,216.0H492" stroke="#e46a6a" stroke-width="1.0"/>
<text y="218.8" font-size="8.0" text-anchor="middle" font-weight="normal" fill="#444"><tspan x="497.73" font-family='"Liberation Serif", serif'>5</tspan><tspan x="501.79" font-family='"Liberation Serif", serif'>%</tspan><tspan x="509.91" font-family='"Liberation Serif", serif'>2</tspan><tspan x="513.97" font-family='"Liberation Serif", serif'>0</tspan><tspan x="518.03" font-family='"Liberation Mono", monospace'>m</tspan><tspan x="522.09" font-family='"Liberation Mono", monospace'>m</tspan><tspan x="526.15" font-family='"Liberation Mono", monospace'>/</tspan><tspan x="530.21" font-family='"Liberation Mono", monospace'>m</tspan><tspan x="534.27" font-family='"Liberation Mono", monospace'>i</tspan><tspan x="538.33" font-family='"Liberation Mono", monospace'>n</tspan></text>
<path d="M476,224.6H492" stroke="#3a8cc6" stroke-width="1.0"/>
<text y="227.4" font-size="8.0" text-anchor="middle" font-weight="normal" fill="#444"><tspan x="497.73" font-family='"Liberation Serif", serif'>5</tspan><tspan x="501.79" font-family='"Liberation Serif", serif'>%</tspan><tspan x="509.91" font-family='"Liberation Serif", serif'>4</tspan><tspan x="513.97" font-family='"Liberation Serif", serif'>0</tspan><tspan x="518.03" font-family='"Liberation Mono", monospace'>m</tspan><tspan x="522.09" font-family='"Liberation Mono", monospace'>m</tspan><tspan x="526.15" font-family='"Liberation Mono", monospace'>/</tspan><tspan x="530.21" font-family='"Liberation Mono", monospace'>m</tspan><tspan x="534.27" font-family='"Liberation Mono", monospace'>i</tspan><tspan x="538.33" font-family='"Liberation Mono", monospace'>n</tspan></text>
</svg>
</body></html>
